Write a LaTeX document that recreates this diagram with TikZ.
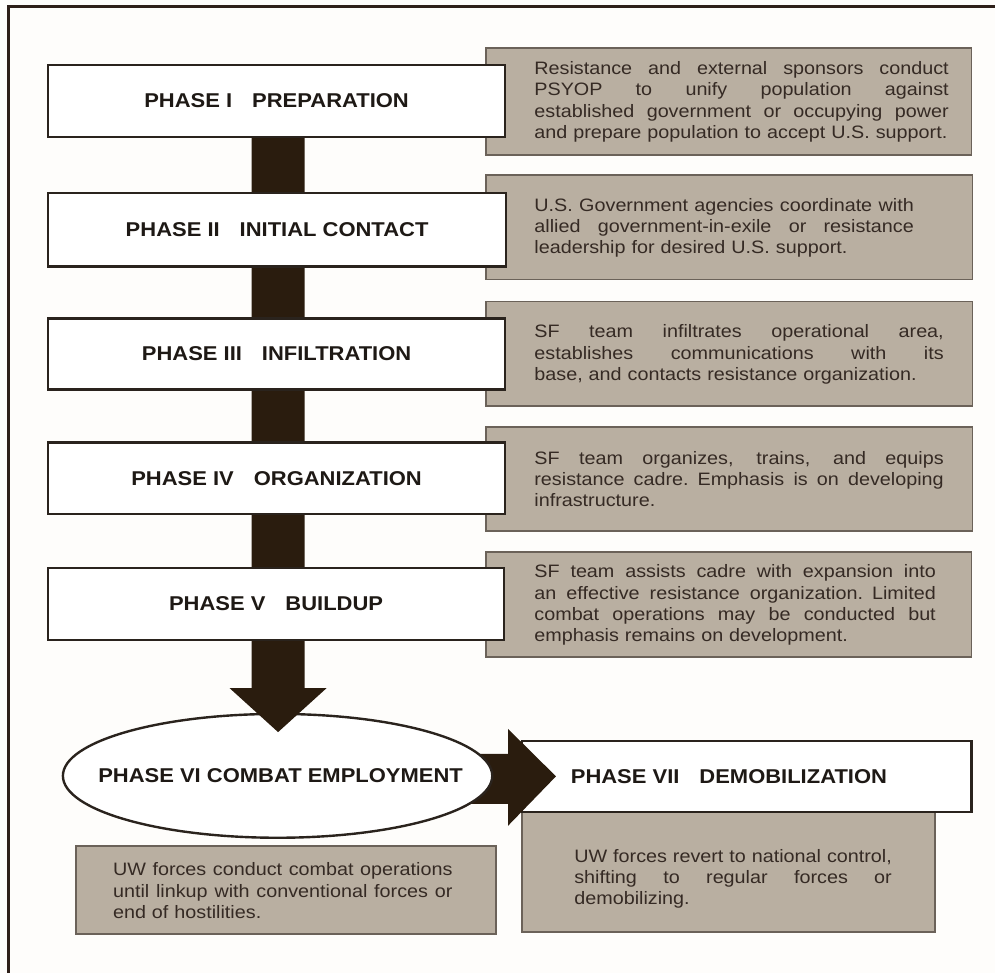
\documentclass[tikz,border=0pt]{standalone}
\usepackage{fontspec}
\setmainfont{Liberation Sans}[FakeStretch=1.1]
\usetikzlibrary{calc,shapes.geometric}
\definecolor{bgc}{HTML}{FEFDFB}
\definecolor{framec}{HTML}{2E2019}
\definecolor{grayfill}{HTML}{B9AFA1}
\definecolor{grayline}{HTML}{6B6259}
\definecolor{boxline}{HTML}{2A231D}
\definecolor{arrowc}{HTML}{2A1C0E}
\definecolor{descc}{HTML}{352A24}
\definecolor{labc}{HTML}{1E1915}
\newcommand\jl[1]{\noindent\hbox to \hsize{\spaceskip=.3em plus 1fil\relax#1}\par}
\newcommand\gapsep{\hspace{1em}}
\pgfdeclarelayer{grayL}
\pgfdeclarelayer{sevenL}
\pgfdeclarelayer{rarrL}
\pgfdeclarelayer{darrL}
\pgfdeclarelayer{boxL}
\pgfsetlayers{grayL,sevenL,rarrL,main,darrL,boxL}
\begin{document}
\begin{tikzpicture}[x=1pt,y=-1pt,
  phasebox/.style={draw=boxline,line width=2.4pt,fill=white,inner sep=0pt,
    font=\fontsize{20}{23}\selectfont\bfseries,text=labc},
  labeltext/.style={inner sep=0pt,font=\fontsize{20}{23}\selectfont\bfseries,text=labc},
  descbox/.style={draw=grayline,line width=1.8pt,fill=grayfill,inner sep=0pt},
  desctext/.style={inner sep=0pt,anchor=west,
    font=\fontsize{18}{21.3}\selectfont,text=descc},
  bigarrow/.style={fill=arrowc}
]
\begin{pgfonlayer}{grayL}
\fill[bgc] (0,0) rectangle (996,974);
\draw[framec,line width=3pt] (8.5,974) -- (8.5,6.5) -- (996,6.5);
\node[descbox,minimum width=486pt,minimum height=107pt] (g1) at (730,101.5) {};
\node[descbox,minimum width=487pt,minimum height=105pt] (g2) at (730.5,227.5) {};
\node[descbox,minimum width=487pt,minimum height=105pt] (g3) at (730.5,354.5) {};
\node[descbox,minimum width=487pt,minimum height=104pt] (g4) at (730.5,480) {};
\node[descbox,minimum width=486pt,minimum height=105pt] (g5) at (730,605.5) {};
\node[descbox,minimum width=421pt,minimum height=88pt] (g6) at (286.5,891) {};
\node[descbox,minimum width=413pt,minimum height=128pt] (g7) at (729.5,869) {};
\node[desctext,text width=415pt] (d1) at (535,102) {\jl{Resistance and external sponsors conduct}\jl{PSYOP to unify population against}\jl{established government or occupying power}\noindent and prepare population to accept U.S. support.};
\node[desctext,text width=380pt] (d2) at (535,228) {\jl{U.S. Government agencies coordinate with}\jl{allied government-in-exile or resistance}\noindent leadership for desired U.S. support.};
\node[desctext,text width=410pt] (d3) at (535,355) {\jl{SF team infiltrates operational area,}\jl{establishes communications with its}\noindent base, and contacts resistance organization.};
\node[desctext,text width=410pt] (d4) at (535,480) {\jl{SF team organizes, trains, and equips}\jl{resistance cadre. Emphasis is on developing}\noindent infrastructure.};
\node[desctext,text width=402pt] (d5) at (535,606) {\jl{SF team assists cadre with expansion into}\jl{an effective resistance organization. Limited}\jl{combat operations may be conducted but}\noindent emphasis remains on development.};
\node[desctext,text width=340pt] (d6) at (113,892) {\jl{UW forces conduct combat operations}\jl{until linkup with conventional forces or}\noindent end of hostilities.};
\node[desctext,text width=318pt] (d7) at (575,880) {\jl{UW forces revert to national control,}\jl{shifting to regular forces or}\noindent demobilizing.};
\end{pgfonlayer}
\begin{pgfonlayer}{sevenL}
\node[phasebox,minimum width=450pt,minimum height=71pt] (p7) at (748,777.5) {};
\node[labeltext] (l7) at (730,777.5) {PHASE VII\gapsep DEMOBILIZATION};
\end{pgfonlayer}
\node[ellipse,draw=boxline,line width=2.4pt,fill=white,inner sep=0pt,
  minimum width=430pt,minimum height=124pt,
  font=\fontsize{20}{23}\selectfont\bfseries,text=labc] (e) at (278,777) {\makebox[0pt]{\hspace*{6pt}PHASE VI COMBAT EMPLOYMENT}};
\begin{pgfonlayer}{rarrL}
\fill[bigarrow] ($(e.east)+(-25,-22)$) -- ($(p7.west)+(-13,-22.5)$) -- ($(p7.west)+(-13,-47.5)$)
  -- ($(p7.west)+(35,0)$) -- ($(p7.west)+(-13,49.5)$) -- ($(p7.west)+(-13,27.5)$)
  -- ($(e.east)+(-25,28)$) -- cycle;
\end{pgfonlayer}
\begin{pgfonlayer}{boxL}
\node[phasebox,minimum width=458pt,minimum height=72pt] (p1) at (277,101) {PHASE I\gapsep PREPARATION};
\node[phasebox,minimum width=459pt,minimum height=74pt] (p2) at (277.5,230) {PHASE II\gapsep INITIAL CONTACT};
\node[phasebox,minimum width=458pt,minimum height=71pt] (p3) at (277,354.5) {PHASE III\gapsep INFILTRATION};
\node[phasebox,minimum width=458pt,minimum height=72pt] (p4) at (277,479) {PHASE IV\gapsep ORGANIZATION};
\node[phasebox,minimum width=457pt,minimum height=72pt] (p5) at (276.5,605) {PHASE V\gapsep BUILDUP};
\end{pgfonlayer}
\begin{pgfonlayer}{darrL}
\fill[bigarrow] ($(p1.south)+(-25,0)$) -- ($(p1.south)+(28,0)$) -- ($(p5.south)+(28.5,47)$)
  -- ($(p5.south)+(50.5,47)$) -- ($(p5.south)+(2,91)$) -- ($(p5.south)+(-46.5,47)$)
  -- ($(p5.south)+(-24.5,47)$) -- cycle;
\end{pgfonlayer}
\useasboundingbox (0,0) rectangle (996,974);
\end{tikzpicture}
\end{document}
